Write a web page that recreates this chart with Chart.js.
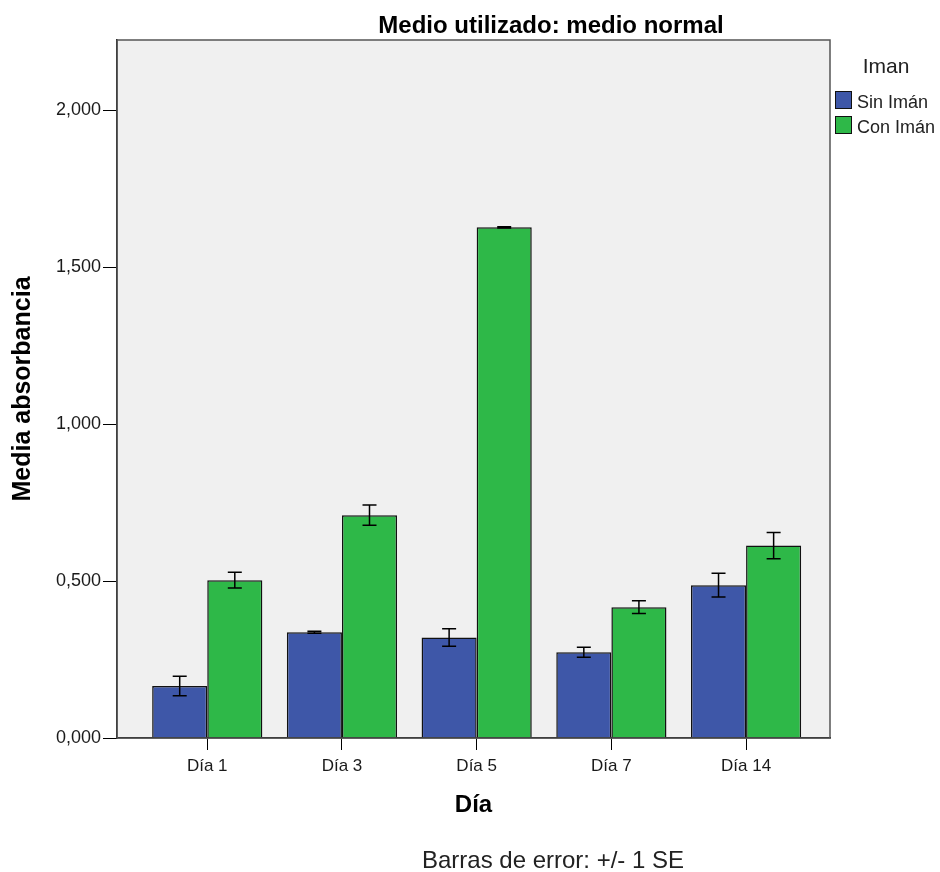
<!DOCTYPE html>
<html>
<head>
<meta charset="utf-8">
<script src="https://cdn.jsdelivr.net/npm/chart.js@4.4.1/dist/chart.umd.min.js"></script>
<style>
  body { margin: 0; background: #fff; }
</style>
</head>
<body>
<canvas id="myChart" width="940" height="872"></canvas>
<script>
const dias = ['Día 1', 'Día 3', 'Día 5', 'Día 7', 'Día 14'];
const sinIman = [0.166, 0.337, 0.320, 0.273, 0.487];
const sinImanSE = [0.031, 0.003, 0.028, 0.016, 0.038];
const conIman = [0.503, 0.710, 1.627, 0.417, 0.613];
const conImanSE = [0.025, 0.032, 0.002, 0.020, 0.042];
const seriesNames = ['Sin Imán', 'Con Imán'];

const FONT = '"Liberation Sans", Arial, sans-serif';

// grey plot background + frame
const frame = {
    id: 'frame',
    beforeDraw(chart) {
        const {ctx, chartArea: a} = chart;
        ctx.save();
        ctx.fillStyle = '#f0f0f0';
        ctx.fillRect(a.left, a.top, a.right - a.left, a.bottom - a.top);
        ctx.restore();
    },
    afterDraw(chart) {
        const {ctx, chartArea: a} = chart;
        ctx.save();
        ctx.strokeStyle = '#555';
        ctx.lineWidth = 1.5;
        ctx.strokeRect(a.left, a.top, a.right - a.left, a.bottom - a.top);

        // title + footnote
        ctx.fillStyle = '#000';
        ctx.textAlign = 'center';
        ctx.font = 'bold 24px ' + FONT;
        ctx.fillText('Medio utilizado: medio normal', 551, 33);
        ctx.fillStyle = '#222';
        ctx.font = '24px ' + FONT;
        ctx.fillText('Barras de error: +/- 1 SE', 553, 868);

        // legend
        ctx.font = '21px ' + FONT;
        ctx.fillText('Iman', 886, 73);
        ctx.textAlign = 'left';
        ctx.font = '18px ' + FONT;
        chart.data.datasets.forEach((ds, i) => {
            const y = 91 + i * 25;
            ctx.fillStyle = ds.backgroundColor;
            ctx.fillRect(835, y, 17, 18);
            ctx.strokeStyle = '#111';
            ctx.lineWidth = 1;
            ctx.strokeRect(835.5, y + 0.5, 16, 17);
            ctx.fillStyle = '#222';
            ctx.fillText(ds.label, 857, y + 17);
        });
        ctx.restore();
    }
};

// +/- 1 SE error bars
const errorBars = {
    id: 'errorBars',
    afterDatasetsDraw(chart) {
        const {ctx} = chart;
        const yScale = chart.scales.y;
        ctx.save();
        ctx.strokeStyle = '#000';
        ctx.lineWidth = 1.5;
        chart.data.datasets.forEach((ds, i) => {
            const meta = chart.getDatasetMeta(i);
            meta.data.forEach((bar, j) => {
                const v = ds.data[j].y, e = ds.se[j];
                const top = yScale.getPixelForValue(v + e);
                const bot = yScale.getPixelForValue(v - e);
                ctx.beginPath();
                ctx.moveTo(bar.x, top); ctx.lineTo(bar.x, bot);
                ctx.moveTo(bar.x - 7, top); ctx.lineTo(bar.x + 7, top);
                ctx.moveTo(bar.x - 7, bot); ctx.lineTo(bar.x + 7, bot);
                ctx.stroke();
            });
        });
        ctx.restore();
    }
};

const config = {
    type: 'bar',
    data: {
        datasets: [{
            label: seriesNames[0],
            data: sinIman.map((v, i) => ({x: i, y: v})),
            se: sinImanSE,
            backgroundColor: '#3e57a8',
            borderColor: '#111',
            borderWidth: 1.5
        }, {
            label: seriesNames[1],
            data: conIman.map((v, i) => ({x: i, y: v})),
            se: conImanSE,
            backgroundColor: '#2eb848',
            borderColor: '#111',
            borderWidth: 1.5
        }]
    },
    options: {
        responsive: false,
        animation: false,
        categoryPercentage: 0.818,
        barPercentage: 1,
        layout: {padding: {top: 40, right: 110, left: 0, bottom: 0}},
        plugins: {legend: {display: false}, tooltip: {enabled: false}},
        scales: {
            x: {
                type: 'linear',
                offset: false,
                min: -0.67,
                max: 4.623,
                afterFit: s => { s.height = 134; },
                ticks: {
                    stepSize: 1,
                    includeBounds: false,
                    padding: 6,
                    color: '#1a1a1a',
                    font: {family: FONT, size: 17},
                    callback: v => dias[v]
                },
                grid: {offset: false, drawOnChartArea: false, drawTicks: true, tickLength: 12, color: '#000'},
                border: {color: '#000', width: 1.5},
                title: {
                    display: true, text: 'Día', color: '#000',
                    font: {family: FONT, size: 24, weight: 'bold'},
                    padding: {top: 0, bottom: 52}
                }
            },
            y: {
                min: 0,
                max: 2.224,
                afterFit: s => { s.width = 117; },
                ticks: {
                    stepSize: 0.5,
                    includeBounds: false,
                    padding: 2,
                    color: '#1a1a1a',
                    font: {family: FONT, size: 18},
                    callback: v => v.toFixed(3).replace('.', ',')
                },
                grid: {drawOnChartArea: false, drawTicks: true, tickLength: 14, color: '#000'},
                border: {color: '#000', width: 1.5},
                title: {
                    display: true, text: 'Media absorbancia', color: '#000',
                    font: {family: FONT, size: 25, weight: 'bold'},
                    padding: {top: 8, bottom: 0}
                }
            }
        }
    },
    plugins: [frame, errorBars]
};

new Chart(document.getElementById('myChart'), config);
</script>
</body>
</html>
